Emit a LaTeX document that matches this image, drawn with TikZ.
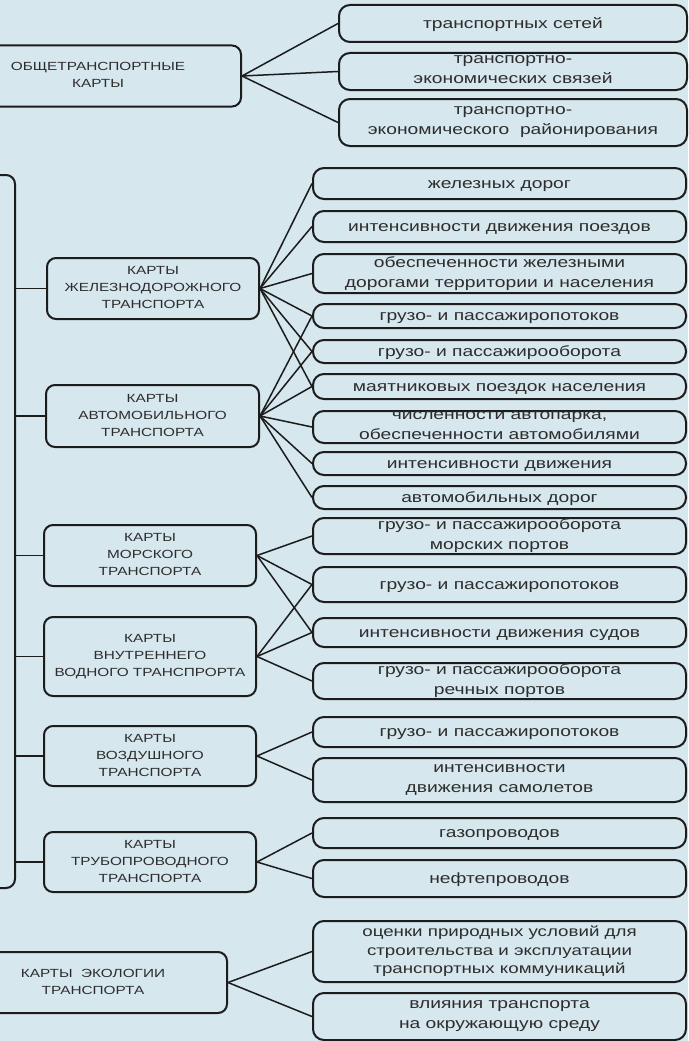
\documentclass[tikz,border=0pt]{standalone}
\usepackage{fontspec}
\setmainfont{Liberation Sans}
\newfontfamily\wfont[FakeStretch=1.3]{Liberation Sans}
\definecolor{bg}{RGB}{214,231,238}
\definecolor{ink}{RGB}{28,28,28}
\definecolor{txt}{RGB}{45,45,45}
\newcommand\rstrut{\rule[-3pt]{0pt}{16pt}}
\newcommand\lstrut{\rule[-2pt]{0pt}{13.5pt}}
\begin{document}
\begin{tikzpicture}[x=1pt,y=-1pt,
  lbox/.style={draw=ink, line width=2pt, rounded corners=9pt, inner sep=0pt, align=center, text=txt,
    font={\wfont\fontsize{11.8}{17}\selectfont},
    execute at begin node=\lstrut, execute at end node=\lstrut},
  rbox/.style={draw=ink, line width=2pt, rounded corners=11pt, inner sep=0pt, align=center, text=txt,
    font={\wfont\fontsize{14.8}{20}\selectfont}, minimum width=373pt,
    execute at begin node=\rstrut, execute at end node=\rstrut},
  tbox/.style={rbox, minimum width=348pt},
  link/.style={draw=ink, line width=1.5pt}]
\useasboundingbox (0,0) rectangle (688,1041);
\clip (0,0) rectangle (688,1041);
\fill[bg] (0,0) rectangle (688,1041);

% left / middle boxes
\node[lbox, minimum width=286pt, minimum height=61pt] (L0) at (98,76) {ОБЩЕТРАНСПОРТНЫЕ\\КАРТЫ};
\node[lbox, minimum width=75pt, minimum height=713pt] (par) at (-22.5,531.5) {};
\node[lbox, minimum width=212pt, minimum height=61pt] (M1) at (153,288.5) {КАРТЫ\\ЖЕЛЕЗНОДОРОЖНОГО\\ТРАНСПОРТА};
\node[lbox, minimum width=213pt, minimum height=62pt] (M2) at (152.5,416) {КАРТЫ\\АВТОМОБИЛЬНОГО\\ТРАНСПОРТА};
\node[lbox, minimum width=212pt, minimum height=61pt] (M3) at (150,555.5) {КАРТЫ\\МОРСКОГО\\ТРАНСПОРТА};
\node[lbox, minimum width=212pt, minimum height=79pt] (M4) at (150,656.5) {КАРТЫ\\ВНУТРЕННЕГО\\ВОДНОГО ТРАНСПРОРТА};
\node[lbox, minimum width=212pt, minimum height=60pt] (M5) at (150,756) {КАРТЫ\\ВОЗДУШНОГО\\ТРАНСПОРТА};
\node[lbox, minimum width=212pt, minimum height=60pt] (M6) at (150,862) {КАРТЫ\\ТРУБОПРОВОДНОГО\\ТРАНСПОРТА};
\node[lbox, minimum width=268pt, minimum height=61pt] (L7) at (93,982.5) {КАРТЫ~~ЭКОЛОГИИ\\ТРАНСПОРТА};

% right boxes
\node[tbox, minimum height=37pt] (r1) at (513,23.5) {транспортных сетей};
\node[tbox, minimum height=37pt] (r2) at (513,71.5) {транспортно-\\экономических связей};
\node[tbox, minimum height=47pt] (r3) at (513,122.5) {транспортно-\\экономического~~районирования};
\node[rbox, minimum height=31pt] (r4) at (499.5,183.5) {железных дорог};
\node[rbox, minimum height=31pt] (r5) at (499.5,226.5) {интенсивности движения поездов};
\node[rbox, minimum height=39pt] (r6) at (499.5,273.5) {обеспеченности железными\\дорогами территории и населения};
\node[rbox, minimum height=24pt] (r7) at (499.5,316) {грузо- и пассажиропотоков};
\node[rbox, minimum height=23pt] (r8) at (499.5,351.5) {грузо- и пассажирооборота};
\node[rbox, minimum height=25pt] (r9) at (499.5,386.5) {маятниковых поездок населения};
\node[rbox, minimum height=32pt] (r10) at (499.5,427) {численности автопарка,\\обеспеченности автомобилями};
\node[rbox, minimum height=23pt] (r11) at (499.5,463.5) {интенсивности движения};
\node[rbox, minimum height=23pt] (r12) at (499.5,497.5) {автомобильных дорог};
\node[rbox, minimum height=36pt] (r13) at (499.5,536) {грузо- и пассажирооборота\\морских портов};
\node[rbox, minimum height=35pt] (r14) at (499.5,584.5) {грузо- и пассажиропотоков};
\node[rbox, minimum height=29pt] (r15) at (499.5,632.5) {интенсивности движения судов};
\node[rbox, minimum height=36pt] (r16) at (499.5,681) {грузо- и пассажирооборота\\речных портов};
\node[rbox, minimum height=30pt] (r17) at (499.5,732) {грузо- и пассажиропотоков};
\node[rbox, minimum height=44pt] (r18) at (499.5,780) {интенсивности\\движения самолетов};
\node[rbox, minimum height=30pt] (r19) at (499.5,833) {газопроводов};
\node[rbox, minimum height=37pt] (r20) at (499.5,878.5) {нефтепроводов};
\node[rbox, minimum height=61pt, font={\wfont\fontsize{14.4}{18.5}\selectfont}] (r21) at (499.5,951.5) {оценки природных условий для\\строительства и эксплуатации\\транспортных коммуникаций};
\node[rbox, minimum height=47pt] (r22) at (499.5,1016.5) {влияния транспорта\\на окружающую среду};

% bracket links
\foreach \m in {M1,M2,M3,M4,M5,M6}
  \draw[link] (par.east |- \m.west) -- (\m.west);

% fan-out links
\foreach \r in {r1,r2,r3} \draw[link] (L0.east) -- (\r.west);
\foreach \r in {r4,r5,r6,r7,r8,r9} \draw[link] (M1.east) -- (\r.west);
\foreach \r in {r7,r8,r9,r10,r11,r12} \draw[link] (M2.east) -- (\r.west);
\foreach \r in {r13,r14,r15} \draw[link] (M3.east) -- (\r.west);
\foreach \r in {r14,r15,r16} \draw[link] (M4.east) -- (\r.west);
\foreach \r in {r17,r18} \draw[link] (M5.east) -- (\r.west);
\foreach \r in {r19,r20} \draw[link] (M6.east) -- (\r.west);
\foreach \r in {r21,r22} \draw[link] (L7.east) -- (\r.west);
\end{tikzpicture}
\end{document}
